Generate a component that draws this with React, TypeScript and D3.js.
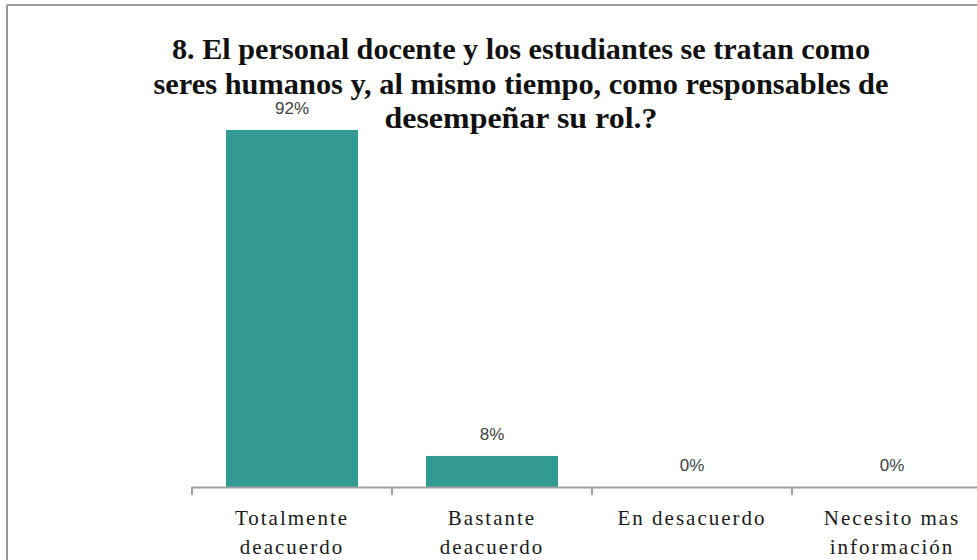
import React from "react";
import * as d3 from "d3";

const titleLines = [
  "8. El personal  docente y los estudiantes se tratan  como",
  "seres humanos  y, al mismo  tiempo, como responsables de",
  "desempeñar su rol.?",
];
const categories = ["Totalmente deacuerdo", "Bastante deacuerdo", "En desacuerdo", "Necesito mas información"];
const categoryLines = [
  ["Totalmente", "deacuerdo"],
  ["Bastante", "deacuerdo"],
  ["En desacuerdo"],
  ["Necesito mas", "información"],
];
const values = [92, 8, 0, 0];
const valueLabels = ["92%", "8%", "0%", "0%"];

const W = 977;
const H = 560;

export default function App() {
  const x = d3.scaleBand<string>().domain(categories).range([192, 992]).paddingInner(0.34).paddingOuter(0.17);
  const y = d3.scaleLinear().domain([0, 92]).range([487, 130]);
  const titleWidths = [698, 735, 273];
  return (
    <svg width={W} height={H} style={{ position: "absolute", left: 0, top: 0 }}>
      <rect x={0} y={0} width={W} height={H} fill="#ffffff" />
      <line x1={7} y1={5} x2={W} y2={5} stroke="#9a9a9a" strokeWidth={2} />
      <line x1={7} y1={5} x2={7} y2={H} stroke="#9a9a9a" strokeWidth={2} />
      {titleLines.map((t, i) => (
        <text
          key={i}
          x={521}
          y={59 + i * 34.5}
          textAnchor="middle"
          fontFamily="'Liberation Serif', 'Times New Roman', serif"
          fontWeight="bold"
          fontSize={29}
          fill="#111"
          textLength={titleWidths[i]}
          lengthAdjust="spacingAndGlyphs"
        >
          {t}
        </text>
      ))}
      {categories.map((c, i) => (
        <rect key={c} x={x(c)} y={y(values[i])} width={x.bandwidth()} height={y(0) - y(values[i])} fill="#339A93" />
      ))}
      {categories.map((c, i) => (
        <text
          key={"v" + c}
          x={(x(c) as number) + x.bandwidth() / 2}
          y={y(values[i]) - 16}
          textAnchor="middle"
          fontFamily="'Liberation Sans', Arial, sans-serif"
          fontSize={17}
          fill="#404040"
        >
          {valueLabels[i]}
        </text>
      ))}
      <line x1={192} y1={487.5} x2={W} y2={487.5} stroke="#a0a0a0" strokeWidth={2} />
      {[0, 1, 2, 3].map((i) => {
        const tx = 192 + i * 200;
        return <line key={"t" + i} x1={tx} y1={487} x2={tx} y2={495} stroke="#a0a0a0" strokeWidth={2} />;
      })}
      {categories.map((c, i) => (
        <text
          key={"c" + c}
          textAnchor="middle"
          fontFamily="'Liberation Serif', 'Times New Roman', serif"
          fontSize={21}
          letterSpacing={2}
          fill="#1a1a1a"
        >
          {categoryLines[i].map((l, j) => (
            <tspan key={j} x={(x(c) as number) + x.bandwidth() / 2} y={525 + j * 29}>
              {l}
            </tspan>
          ))}
        </text>
      ))}
    </svg>
  );
}
